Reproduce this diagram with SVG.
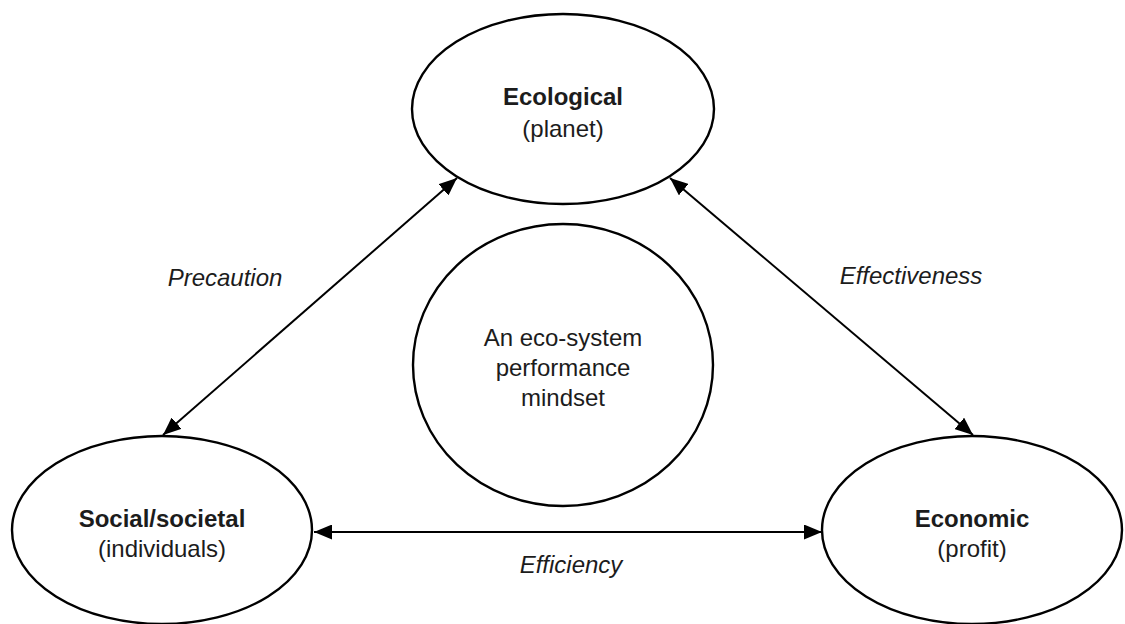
<svg xmlns="http://www.w3.org/2000/svg" width="1125" height="624" viewBox="0 0 1125 624">
<defs>
<marker id="a" viewBox="0 0 18 15" refX="18" refY="7.5" markerWidth="18" markerHeight="15" markerUnits="userSpaceOnUse" orient="auto-start-reverse">
<path d="M0,0 L18,7.5 L0,15 Z" fill="#000"/>
</marker>
</defs>
<style>
.n{fill:#fff;stroke:#000;stroke-width:2.4}
.t{font-family:"Liberation Sans",Arial,sans-serif;font-size:24px;fill:#1c1c1c;text-anchor:middle}
.b{font-weight:bold}
.i{font-style:italic}
.c{stroke:#000;stroke-width:2;fill:none;marker-start:url(#a);marker-end:url(#a)}
</style>
<rect width="1125" height="624" fill="#fff"/>
<g id="ecological">
<ellipse class="n" cx="563" cy="109" rx="151" ry="95"/>
<text class="t b" x="563" y="105">Ecological</text>
<text class="t" x="563" y="137">(planet)</text>
</g>
<g id="mindset">
<ellipse class="n" cx="563" cy="365" rx="150" ry="141"/>
<text class="t" x="563" y="346">An eco-system</text>
<text class="t" x="563" y="376">performance</text>
<text class="t" x="563" y="406">mindset</text>
</g>
<g id="social">
<ellipse class="n" cx="162" cy="530" rx="150" ry="94"/>
<text class="t b" x="162" y="527">Social/societal</text>
<text class="t" x="162" y="557">(individuals)</text>
</g>
<g id="economic">
<ellipse class="n" cx="972" cy="530" rx="150" ry="94"/>
<text class="t b" x="972" y="527">Economic</text>
<text class="t" x="972" y="557">(profit)</text>
</g>
<g id="connectors">
<line class="c" x1="457" y1="178" x2="163" y2="435"/>
<line class="c" x1="670" y1="178" x2="973" y2="435"/>
<line class="c" x1="314" y1="532" x2="822" y2="532"/>
<text class="t i" x="225" y="286">Precaution</text>
<text class="t i" x="911" y="284">Effectiveness</text>
<text class="t i" x="571" y="573">Efficiency</text>
</g>
</svg>
